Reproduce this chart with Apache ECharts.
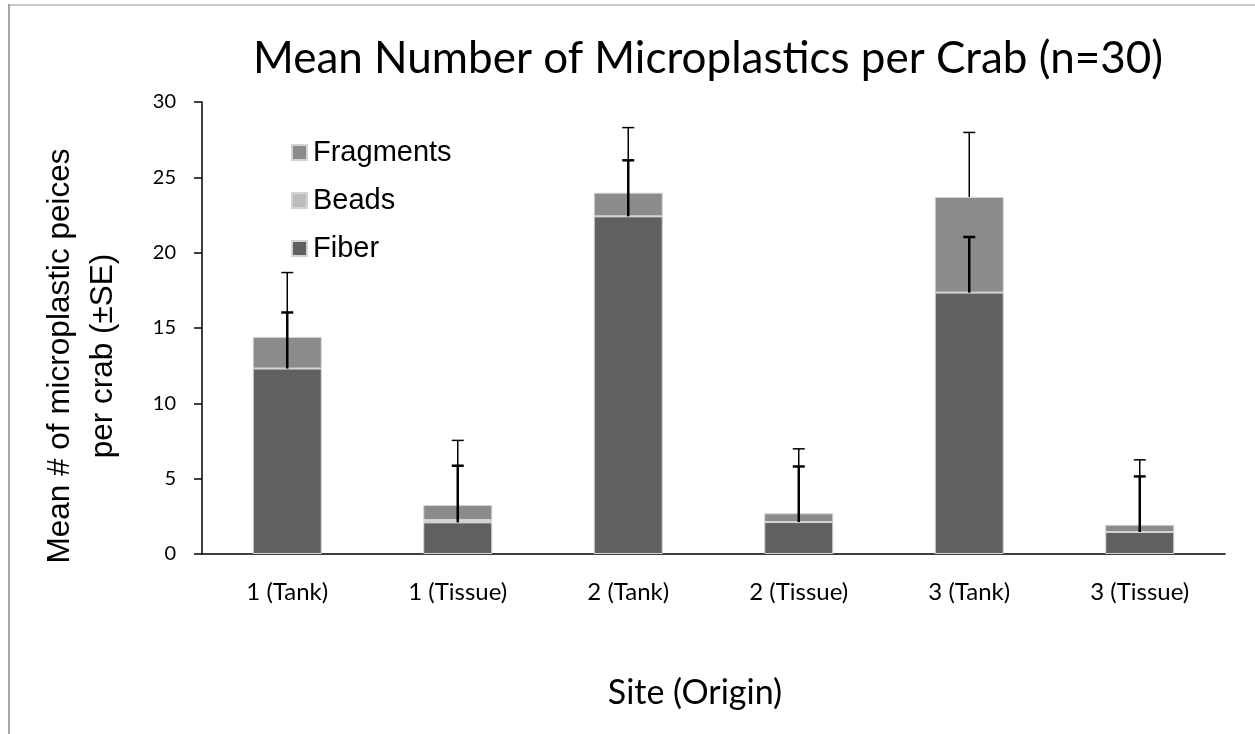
<!DOCTYPE html>
<html>
<head>
<meta charset="utf-8">
<script src="https://cdn.jsdelivr.net/npm/echarts@6/dist/echarts.min.js"></script>
<style>
html,body{margin:0;padding:0;background:#fff;}
#chart{width:1255px;height:734px;}
</style>
</head>
<body>
<div id="chart"></div>
<script>
const categories = ['1 (Tank)', '1 (Tissue)', '2 (Tank)', '2 (Tissue)', '3 (Tank)', '3 (Tissue)'];
const fiber = [12.31, 2.10, 22.41, 2.12, 17.35, 1.46];
const beads = [0, 0.15, 0, 0, 0, 0];
const fragments = [2.10, 1.00, 1.57, 0.58, 6.35, 0.48];
const fiberSE = [3.72, 3.76, 3.72, 3.69, 3.69, 3.69];
const fragmentsSE = [4.27, 4.29, 4.32, 4.28, 4.28, 4.31];
const yTicks = [0, 5, 10, 15, 20, 25, 30];

const titleText = 'Mean Number of Microplastics per Crab (n=30)';
const xTitle = 'Site (Origin)';
const yTitle = 'Mean # of microplastic peices\nper crab (\u00B1SE)';

const calibri = 'Lato, "Open Sans", sans-serif';
const arial = '"Liberation Sans", Arial, sans-serif';

// error bar data: [index, base, err]
const fiberErrData = categories.map((c, i) => [i, fiber[i], fiberSE[i]]);
const fragErrData = categories.map((c, i) => [i, fiber[i] + beads[i] + fragments[i], fragmentsSE[i]]);

function errRender(lw) {
  return function (params, api) {
    const i = api.value(0), base = api.value(1), err = api.value(2);
    const p0 = api.coord([i, base]);
    const p1 = api.coord([i, base + err]);
    const hw = 6;
    const style = { stroke: '#000', lineWidth: lw };
    return {
      type: 'group',
      children: [
        { type: 'line', shape: { x1: p0[0], y1: p0[1], x2: p1[0], y2: p1[1] }, style: style },
        { type: 'line', shape: { x1: p1[0] - hw, y1: p1[1], x2: p1[0] + hw, y2: p1[1] }, style: style }
      ]
    };
  };
}

const chart = echarts.init(document.getElementById('chart'), null, { renderer: 'canvas' });
const barStyle = (c) => ({ color: c, borderColor: '#d4d4d4', borderWidth: 1 });

chart.setOption({
  animation: false,
  backgroundColor: '#fff',
  grid: { left: 202, right: 30, top: 102, bottom: 180, containLabel: false },
  legend: {
    orient: 'vertical',
    left: 286,
    top: 133,
    itemWidth: 15,
    itemHeight: 15,
    itemGap: 19,
    icon: 'rect',
    data: ['Fragments', 'Beads', 'Fiber'],
    textStyle: { fontFamily: arial, fontSize: 29, color: '#000', padding: [0, 0, 0, 1] }
  },
  xAxis: {
    type: 'category',
    data: categories,
    axisLine: { lineStyle: { color: '#000', width: 1.5 } },
    axisTick: { alignWithLabel: true, length: 6, lineStyle: { color: '#000', width: 1.5 } },
    axisLabel: { color: '#000', fontFamily: calibri, fontSize: 24, margin: 26 },
    splitLine: { show: false }
  },
  yAxis: {
    type: 'value',
    min: yTicks[0],
    max: yTicks[yTicks.length - 1],
    interval: 5,
    axisLine: { show: true, lineStyle: { color: '#000', width: 1.5 } },
    axisTick: { show: true, length: 8, lineStyle: { color: '#000', width: 1.5 } },
    axisLabel: { color: '#000', fontFamily: calibri, fontSize: 20, margin: 26 },
    splitLine: { show: false }
  },
  series: [
    { name: 'Fiber', type: 'bar', stack: 's', data: fiber, barWidth: 69, itemStyle: barStyle('#606060') },
    { name: 'Beads', type: 'bar', stack: 's', data: beads, barWidth: 69, itemStyle: barStyle('#bdbdbd') },
    { name: 'Fragments', type: 'bar', stack: 's', data: fragments, barWidth: 69, itemStyle: barStyle('#8b8b8b') },
    { name: 'fragErr', type: 'custom', data: fragErrData, renderItem: errRender(1.5), z: 5, silent: true },
    { name: 'fiberErr', type: 'custom', data: fiberErrData, renderItem: errRender(2.5), z: 6, silent: true }
  ],
  graphic: [
    { type: 'line', shape: { x1: 8, y1: 5, x2: 1260, y2: 5 }, style: { stroke: '#c8c8c8', lineWidth: 2 } },
    { type: 'line', shape: { x1: 9, y1: 4, x2: 9, y2: 740 }, style: { stroke: '#a6a6a6', lineWidth: 2 } },
    { type: 'text', x: 708, y: 59, style: { text: titleText, font: '44px ' + calibri, fill: '#000', textAlign: 'center', textVerticalAlign: 'middle' } },
    { type: 'text', x: 695, y: 693, style: { text: xTitle, font: '34px ' + calibri, fill: '#000', textAlign: 'center', textVerticalAlign: 'middle' } },
    { type: 'text', x: 82, y: 356, rotation: Math.PI / 2, style: { text: yTitle, font: '31.5px ' + arial, lineHeight: 43, fill: '#000', textAlign: 'center', textVerticalAlign: 'middle' } }
  ]
});
</script>
</body>
</html>
